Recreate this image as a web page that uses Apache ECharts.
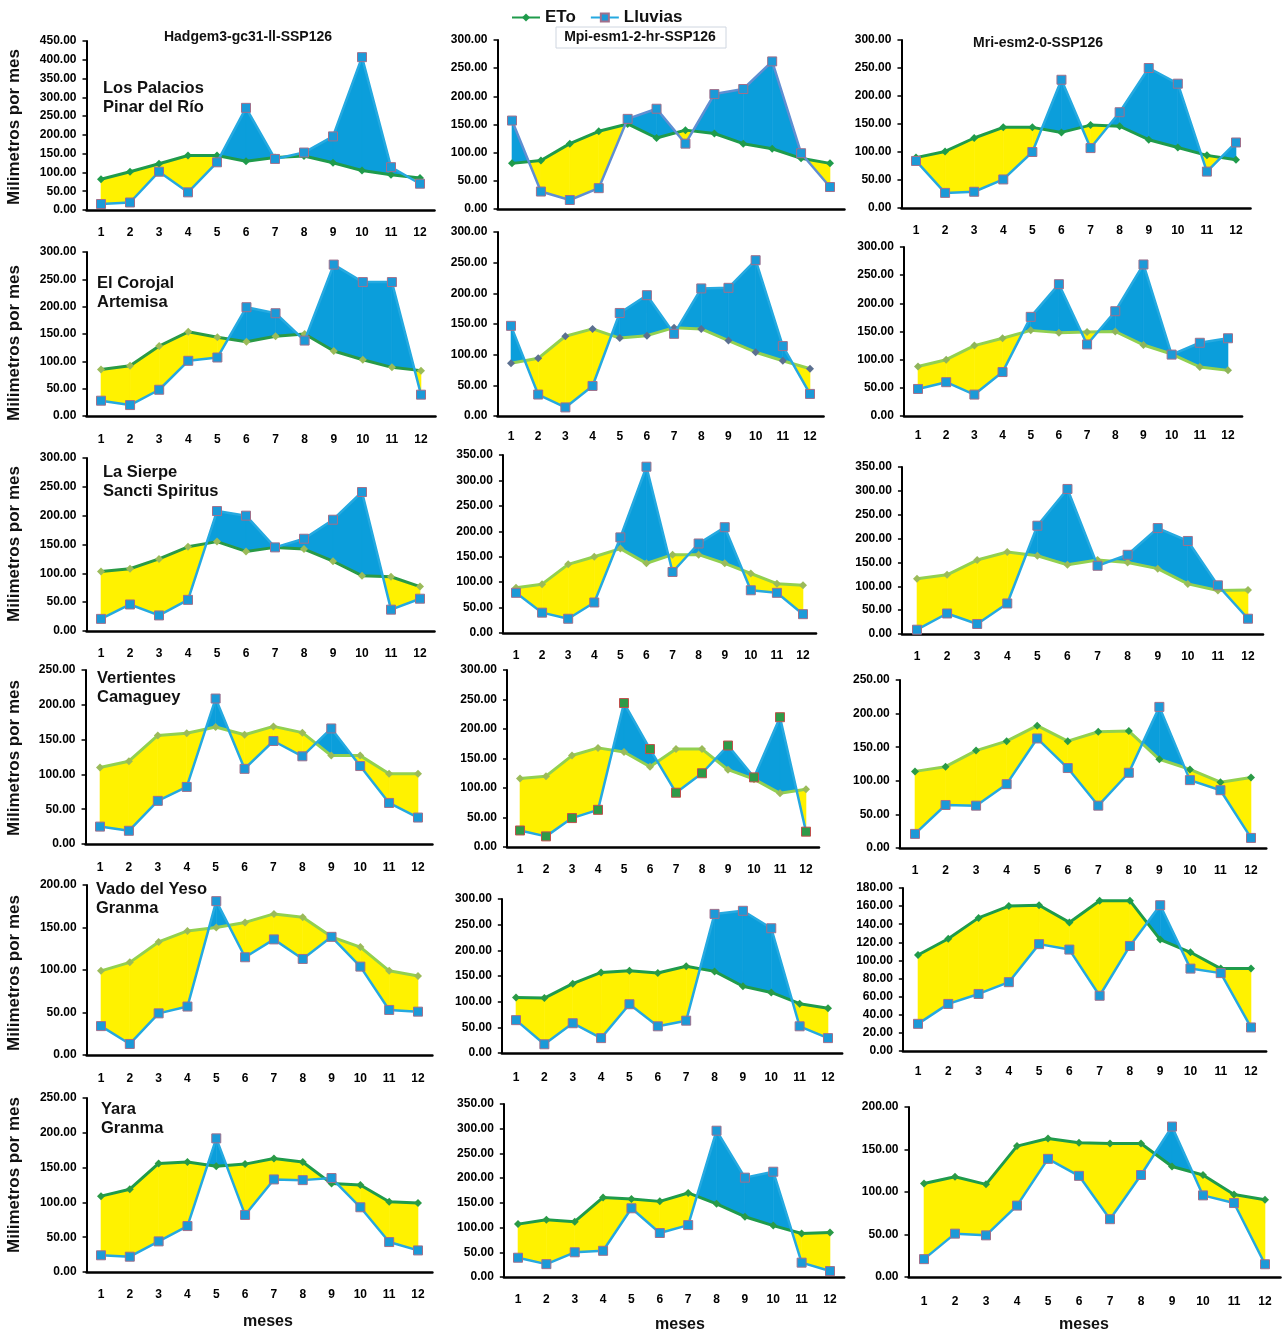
<!DOCTYPE html>
<html>
<head>
<meta charset="utf-8">
<script src="https://cdn.jsdelivr.net/npm/echarts@6/dist/echarts.min.js"></script>
<style>
html, body { margin: 0; padding: 0; background: #fff; }
#main { width: 1282px; height: 1338px; }
</style>
</head>
<body>
<div id="main"></div>
<script>
"use strict";

var meses = ['1', '2', '3', '4', '5', '6', '7', '8', '9', '10', '11', '12'];
var modelos = ['Hadgem3-gc31-ll-SSP126', 'Mpi-esm1-2-hr-SSP126', 'Mri-esm2-0-SSP126'];
var estaciones = [
    ['Los Palacios', 'Pinar del Río'],
    ['El Corojal', 'Artemisa'],
    ['La Sierpe', 'Sancti Spiritus'],
    ['Vertientes', 'Camaguey'],
    ['Vado del Yeso', 'Granma'],
    ['Yara', 'Granma']
];

// una fila por estacion, en el orden de "estaciones"
var etoHadgem = [
    [82, 102, 123, 145, 145, 130, 140, 144, 126, 105, 94, 85],
    [85, 92, 128, 154, 144, 136, 146, 150, 119, 103, 89, 83],
    [103, 108, 125, 146, 155, 138, 145, 142, 121, 96, 94, 77],
    [110, 119, 156, 159, 168, 157, 169, 160, 127, 127, 101, 101],
    [99, 109, 133, 146, 150, 156, 166, 162, 139, 127, 99, 93],
    [109, 119, 156, 158, 152, 155, 163, 158, 127, 125, 101, 99]
];
var lluviasHadgem = [
    [16, 20, 102, 47, 127, 272, 136, 153, 196, 407, 114, 70],
    [28, 20, 48, 101, 107, 199, 188, 138, 277, 245, 245, 39],
    [21, 46, 27, 54, 208, 200, 145, 160, 193, 241, 37, 56],
    [25, 19, 62, 82, 209, 108, 148, 126, 166, 112, 59, 38],
    [34, 13, 49, 57, 181, 115, 136, 113, 139, 104, 53, 51],
    [24, 22, 44, 66, 192, 82, 133, 132, 135, 93, 43, 31]
];
var etoMpi = [
    [81, 86, 116, 138, 151, 126, 140, 134, 116, 107, 90, 81],
    [86, 94, 130, 142, 127, 131, 144, 142, 123, 104, 90, 77],
    [89, 96, 135, 150, 166, 137, 154, 154, 137, 117, 97, 94],
    [116, 120, 155, 168, 161, 136, 166, 166, 131, 115, 91, 98],
    [108, 107, 135, 157, 160, 156, 169, 159, 130, 118, 96, 87],
    [107, 116, 112, 161, 158, 153, 170, 148, 122, 104, 88, 90]
];
var lluviasMpi = [
    [157, 31, 16, 37, 160, 178, 116, 204, 213, 262, 99, 39],
    [147, 35, 14, 49, 168, 197, 134, 208, 209, 254, 114, 36],
    [79, 40, 28, 60, 188, 327, 120, 176, 208, 84, 79, 37],
    [28, 18, 49, 63, 244, 166, 92, 125, 172, 118, 220, 26],
    [64, 17, 58, 29, 95, 52, 63, 271, 277, 243, 52, 29],
    [39, 26, 50, 53, 139, 89, 105, 296, 201, 213, 29, 12]
];
var etoMri = [
    [90, 101, 125, 144, 144, 135, 148, 146, 122, 108, 94, 86],
    [88, 100, 125, 138, 152, 148, 149, 150, 126, 110, 87, 81],
    [116, 124, 155, 172, 164, 145, 155, 150, 137, 105, 91, 92],
    [114, 121, 145, 159, 182, 159, 173, 174, 132, 117, 98, 105],
    [106, 124, 147, 160, 161, 142, 166, 166, 123, 109, 91, 91],
    [110, 118, 109, 154, 163, 158, 157, 157, 130, 120, 97, 91]
];
var lluviasMri = [
    [84, 27, 29, 51, 100, 229, 107, 171, 250, 222, 65, 117],
    [48, 60, 38, 78, 176, 234, 127, 186, 269, 109, 130, 138],
    [9, 43, 21, 64, 227, 304, 143, 166, 222, 195, 102, 32],
    [21, 64, 63, 95, 163, 119, 63, 112, 210, 101, 86, 15],
    [30, 52, 63, 76, 118, 112, 61, 116, 161, 91, 86, 26],
    [21, 51, 49, 84, 139, 119, 68, 120, 177, 96, 87, 15]
];

var ejeMax = [[450, 300, 300], [300, 300, 300], [300, 350, 350], [250, 300, 250], [200, 300, 180], [250, 350, 200]];
var ejePaso = [[50, 50, 50], [50, 50, 50], [50, 50, 50], [50, 50, 50], [50, 50, 20], [50, 50, 50]];

// posicion de cada panel: centro mes 1, centro mes 12, y del max, y del 0, y de las etiquetas
var panelPos = [
    [[101, 420, 41, 210, 233], [512, 830, 40, 209, 232], [916, 1236, 40, 208, 231]],
    [[101, 421, 252, 416, 440], [511, 810, 232, 416, 437], [918, 1228, 247, 416, 436]],
    [[101, 420, 458, 631, 654], [516, 803, 455, 633, 656], [917, 1248, 467, 634, 657]],
    [[100, 418, 670, 844, 868], [520, 806, 670, 847, 870], [915, 1251, 680, 848, 871]],
    [[101, 418, 885, 1055, 1079], [516, 828, 899, 1053, 1078], [918, 1251, 888, 1051, 1072]],
    [[101, 418, 1098, 1272, 1295], [518, 830, 1104, 1277, 1300], [924, 1265, 1107, 1277, 1302]]
];

var verdeOsc = '#1f9b4b', verdeCla = '#92d050', oliva = '#9bbb59', pizarra = '#5b7090';
var etoLinea = [
    [verdeOsc, verdeOsc, verdeOsc],
    ['#2a9a46', verdeCla, verdeCla],
    ['#2a9a46', verdeCla, verdeCla],
    [verdeCla, verdeCla, verdeCla],
    [verdeCla, verdeOsc, verdeOsc],
    [verdeOsc, verdeOsc, verdeOsc]
];
var etoMarca = [
    [verdeOsc, verdeOsc, verdeOsc],
    [oliva, pizarra, '#8fb55a'],
    [oliva, oliva, oliva],
    [oliva, oliva, '#2a9a46'],
    [oliva, '#2a9a46', verdeOsc],
    ['#2a9a46', '#2a9a46', '#2a9a46']
];

var AMARILLO = '#fff200';
var AZUL = '#0b9edb';
var fuente = 'Liberation Sans, Arial, sans-serif';

function poligono(pts, color) {
    return { type: 'polygon', shape: { points: pts }, style: { fill: color, stroke: color, lineWidth: 0.6 } };
}

function rellenar(eto, lluv) {
    return function (params, api) {
        var i = params.dataIndex;
        if (i >= eto.length - 1) return null;
        var a0 = api.coord([i, eto[i]]), a1 = api.coord([i + 1, eto[i + 1]]);
        var b0 = api.coord([i, lluv[i]]), b1 = api.coord([i + 1, lluv[i + 1]]);
        var d0 = eto[i] - lluv[i], d1 = eto[i + 1] - lluv[i + 1];
        var hijos = [];
        if (d0 * d1 >= 0) {
            hijos.push(poligono([a0, a1, b1, b0], (d0 + d1) >= 0 ? AMARILLO : AZUL));
        } else {
            var t = d0 / (d0 - d1);
            var c = [a0[0] + t * (a1[0] - a0[0]), a0[1] + t * (a1[1] - a0[1])];
            hijos.push(poligono([a0, c, b0], d0 > 0 ? AMARILLO : AZUL));
            hijos.push(poligono([c, a1, b1], d1 > 0 ? AMARILLO : AZUL));
        }
        return { type: 'group', children: hijos };
    };
}

var etoAll = [etoHadgem, etoMpi, etoMri];
var lluvAll = [lluviasHadgem, lluviasMpi, lluviasMri];

var grids = [], xAxes = [], yAxes = [], series = [], graficos = [];

for (var r = 0; r < 6; r++) {
    for (var c = 0; c < 3; c++) {
        var k = grids.length;
        var p = panelPos[r][c];
        var w = (p[1] - p[0]) / 11;
        grids.push({ left: p[0] - w / 2, top: p[2], width: w * 12, height: p[3] - p[2] });
        xAxes.push({
            type: 'category', gridIndex: k, data: meses, boundaryGap: true,
            axisLine: { lineStyle: { color: '#000', width: 2.5 } },
            axisTick: { length: 5, lineStyle: { color: '#000', width: 2 } },
            axisLabel: {
                show: !(r === 0 && c === 1), interval: 0, margin: p[4] - p[3] - 6,
                color: '#000', fontWeight: 'bold', fontSize: 12, fontFamily: fuente
            },
            splitLine: { show: false }
        });
        yAxes.push({
            type: 'value', gridIndex: k, min: 0, max: ejeMax[r][c], interval: ejePaso[r][c],
            axisLine: { show: true, lineStyle: { color: '#000', width: 2 } },
            axisTick: { show: true, length: 4, lineStyle: { color: '#000', width: 1.5 } },
            axisLabel: {
                margin: 10, color: '#000', fontWeight: 'bold', fontSize: 12, fontFamily: fuente,
                formatter: function (v) { return v.toFixed(2); }
            },
            splitLine: { show: false }
        });
        var e = etoAll[c][r], l = lluvAll[c][r];
        series.push({
            type: 'custom', xAxisIndex: k, yAxisIndex: k, silent: true, z: 1,
            renderItem: rellenar(e, l),
            data: e.map(function (v, i) { return [i, v]; }),
            encode: { x: 0, y: 1 }
        });
        series.push({
            name: 'ETo', type: 'line', xAxisIndex: k, yAxisIndex: k, z: 3, data: e,
            symbol: 'diamond', symbolSize: 8, showAllSymbol: true,
            lineStyle: { color: etoLinea[r][c], width: 3 },
            itemStyle: { color: etoMarca[r][c] }
        });
        var verdeMarca = (r === 3 && c === 1);
        series.push({
            name: 'Lluvias', type: 'line', xAxisIndex: k, yAxisIndex: k, z: 4, data: l,
            symbol: 'rect', symbolSize: 9, showAllSymbol: true,
            lineStyle: { color: (r === 0 && c === 1) ? '#5f8fd2' : '#25a9e0', width: 2.5 },
            itemStyle: {
                color: verdeMarca ? '#2e9a48' : '#1b9ad8',
                borderColor: verdeMarca ? '#c0504d' : '#a0708c', borderWidth: 1
            }
        });
    }
}

// titulos de modelo
var titX = [248, 640, 1038], titY = [37, 37, 43];
modelos.forEach(function (m, i) {
    graficos.push({
        type: 'text', x: titX[i], y: titY[i],
        style: { text: m, align: 'center', verticalAlign: 'middle', font: 'bold 14px ' + fuente, fill: '#111' }
    });
});
graficos.push({
    type: 'rect', shape: { x: 556, y: 27, width: 170, height: 21 },
    style: { fill: 'none', stroke: '#cfd6e0', lineWidth: 1 }
});

// estaciones (y = centro de la primera linea) y etiqueta del eje y
var estX = [103, 97, 103, 97, 96, 101];
var estY = [88, 283, 472, 678, 889, 1109];
var ejeYc = [127, 343, 544, 758, 973, 1175];
estaciones.forEach(function (s, i) {
    graficos.push({
        type: 'text', x: estX[i], y: estY[i] + 9.5,
        style: { text: s[0] + '\n' + s[1], align: 'left', verticalAlign: 'middle', lineHeight: 19,
                 font: 'bold 16.5px ' + fuente, fill: '#111' }
    });
    graficos.push({
        type: 'text', x: 14, y: ejeYc[i], rotation: Math.PI / 2,
        style: { text: 'Milimetros por mes', align: 'center', verticalAlign: 'middle',
                 font: 'bold 17px ' + fuente, fill: '#111' }
    });
});

[268, 680, 1084].forEach(function (x, i) {
    graficos.push({
        type: 'text', x: x, y: i === 0 ? 1322 : 1325,
        style: { text: 'meses', align: 'center', verticalAlign: 'middle', font: 'bold 16px ' + fuente, fill: '#111' }
    });
});

var myChart = echarts.init(document.getElementById('main'));
myChart.setOption({
    animation: false,
    backgroundColor: '#fff',
    legend: {
        data: ['ETo', 'Lluvias'], left: 506, top: 4, itemWidth: 28, itemHeight: 10, itemGap: 14,
        textStyle: { fontSize: 17, fontWeight: 'bold', fontFamily: fuente, color: '#111' }
    },
    grid: grids,
    xAxis: xAxes,
    yAxis: yAxes,
    series: series,
    graphic: graficos
});
</script>
</body>
</html>
